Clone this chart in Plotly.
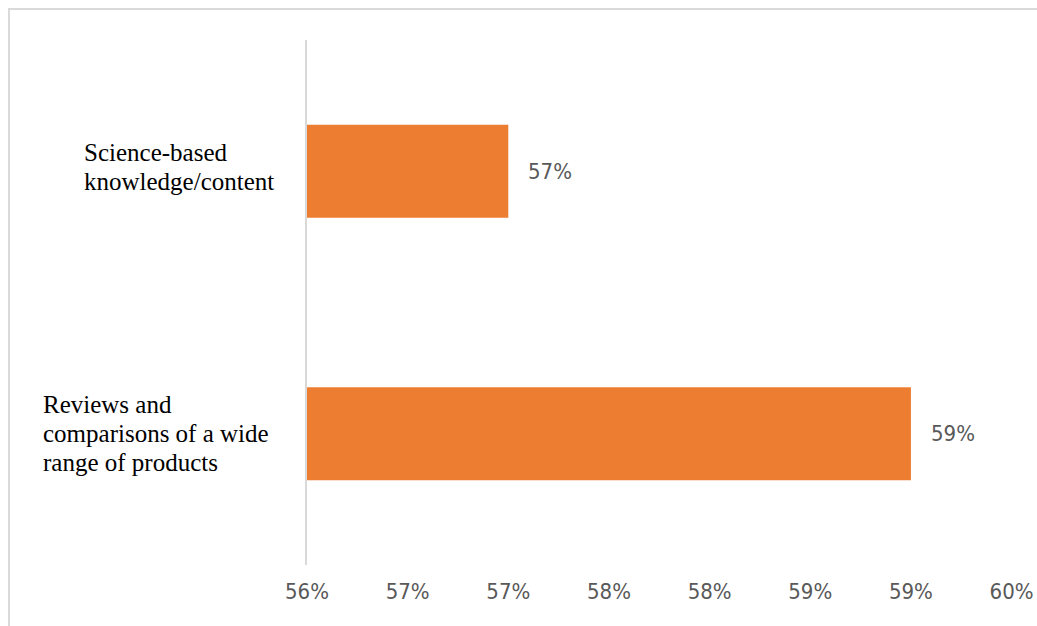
import plotly.graph_objects as go

categories = ["Reviews and<br>comparisons of a wide<br>range of products",
              "Science-based<br>knowledge/content"]
values = [0.59, 0.57]
tick_vals = [0.56, 0.565, 0.57, 0.575, 0.58, 0.585, 0.59, 0.595]
tick_text = ["56%", "57%", "57%", "58%", "58%", "59%", "59%", "60%"]
x_range = [0.56, 0.59502]

W, H = 1037, 626
plot_x0, plot_x1 = 307, 1012
plot_y0, plot_y1 = 40, 565
L, R, T, B = plot_x0, W - plot_x1, plot_y0, H - plot_y1
pw, ph = plot_x1 - plot_x0, plot_y1 - plot_y0

def px_x(p):
    return (p - L) / pw

def px_y(p):
    return (H - B - p) / ph

label_left_px = [82, 41]
label_center_shift = [0, 4]
line_gap = 29
value_font = dict(family="Liberation Sans Narrow, DejaVu Sans Condensed, Arial Narrow, sans-serif",
                  size=22, color="#595959")
cat_font = dict(family="Liberation Serif, Times New Roman, serif", size=25, color="#000000")

fig = go.Figure()
fig.add_trace(go.Bar(
    y=categories, x=values, orientation="h",
    marker=dict(color="#ED7D31", line=dict(width=0)),
    width=0.354, hoverinfo="skip",
))

annotations = []
for c, v in zip(categories, values):
    annotations.append(dict(
        x=v, y=c, xref="x", yref="y", text=f"{round(v*100)}%",
        showarrow=False, xanchor="left", yanchor="middle", xshift=18,
        font=value_font,
    ))
for c, lx, sh in zip(categories, label_left_px[::-1], label_center_shift):
    lines = c.split("<br>")
    n = len(lines)
    for i, ln in enumerate(lines):
        off = ((n - 1) / 2 - i) * line_gap + sh
        annotations.append(dict(
            x=px_x(lx), y=c, xref="paper", yref="y", text=ln,
            showarrow=False, xanchor="left", yanchor="middle", yshift=off,
            font=cat_font,
        ))

fig.update_layout(
    width=W, height=H,
    margin=dict(l=L, r=R, t=T, b=B, pad=0),
    plot_bgcolor="white", paper_bgcolor="white",
    showlegend=False,
    xaxis=dict(range=x_range, tickvals=tick_vals, ticktext=tick_text,
               showgrid=False, zeroline=False, showline=False, automargin=False,
               ticks="", ticklabelstandoff=11,
               tickfont=value_font),
    yaxis=dict(showticklabels=False, showgrid=False, zeroline=False, automargin=False,
               showline=True, linecolor="#d9d9d9", linewidth=1.5, ticks=""),
    annotations=annotations,
    shapes=[dict(type="rect", xref="paper", yref="paper",
                 x0=px_x(9), x1=px_x(1060), y0=px_y(660), y1=px_y(9),
                 line=dict(color="#dadada", width=2), layer="below")],
)

fig.write_html("out.html", config={"displayModeBar": False},
               post_script="document.body.style.margin='0px';document.body.style.overflow='hidden';")
